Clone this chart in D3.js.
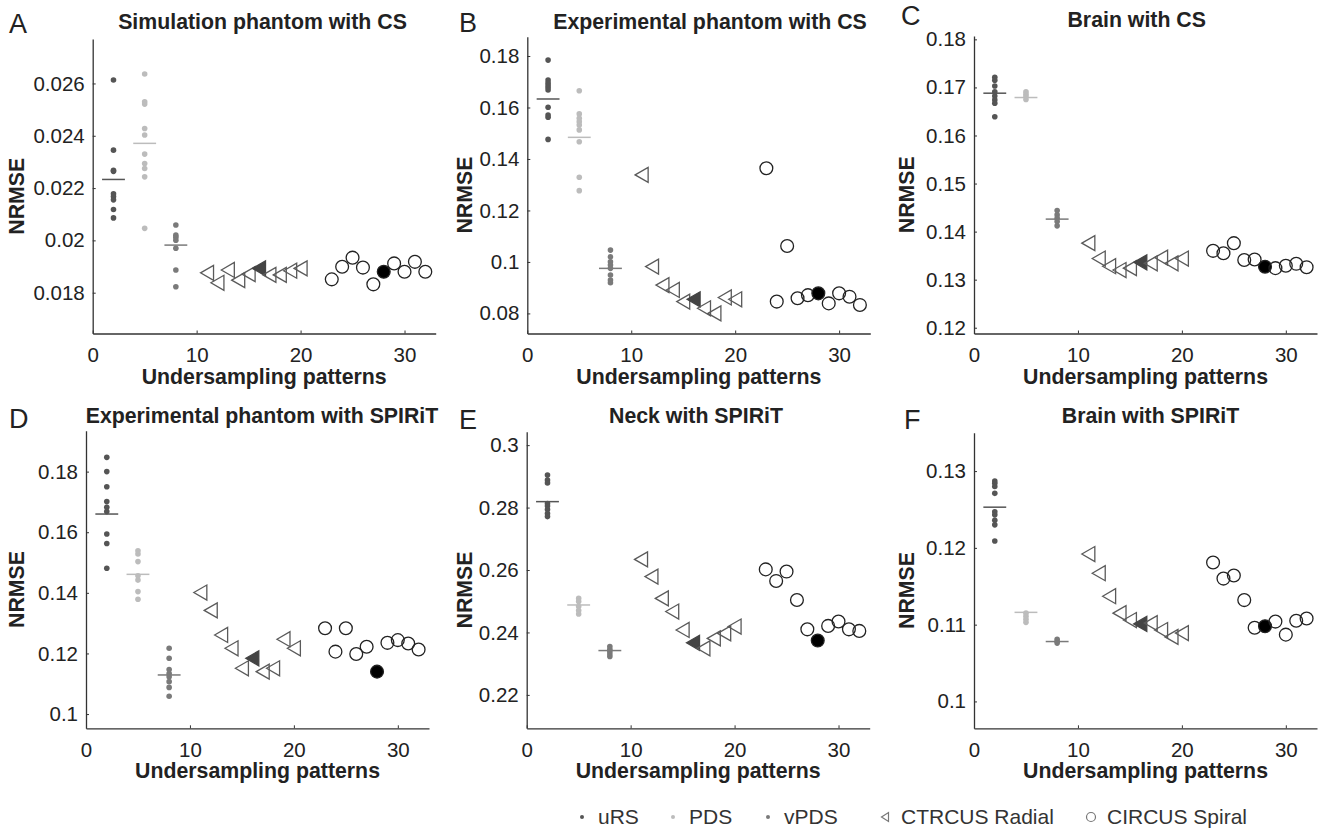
<!DOCTYPE html>
<html>
<head>
<meta charset="utf-8">
<script src="https://cdn.jsdelivr.net/npm/d3@7"></script>
<style>
  body { margin: 0; background: #fff; }
  svg text { font-family: 'Liberation Sans', Arial, sans-serif; }
</style>
</head>
<body>
<svg id="chart" width="1322" height="831"></svg>
<script>
// pattern positions on the x axis
const randomX = [2, 5, 8]; // uRS, PDS, vPDS
const radialX = [11, 12, 13, 14, 15, 16, 17, 18, 19, 20];
const spiralX = [23, 24, 25, 26, 27, 28, 29, 30, 31, 32];
const filledRadialX = 16;
const filledSpiralX = 28;
const xTicks = [0, 10, 20, 30];

// A - Simulation phantom with CS
const aURS = [0.02613, 0.02345, 0.02268, 0.02264, 0.02178, 0.02168, 0.02155, 0.02118, 0.02086];
const aPDS = [0.02636, 0.0253, 0.02521, 0.02428, 0.02403, 0.0233, 0.02294, 0.02275, 0.02243, 0.02046];
const aVPDS = [0.02059, 0.0202, 0.02012, 0.02001, 0.0197, 0.01887, 0.01823];
const aMeans = [0.02233, 0.02371, 0.01982];
const aRadial = [0.01876, 0.01838, 0.01887, 0.01848, 0.01871, 0.01893, 0.01868, 0.01868, 0.01884, 0.01893];
const aSpiral = [0.01851, 0.01899, 0.01934, 0.01896, 0.01832, 0.0188, 0.01912, 0.0188, 0.01918, 0.0188];
const aTicks = [0.018, 0.02, 0.022, 0.024, 0.026];

// B - Experimental phantom with CS
const bURS = [0.1784, 0.1707, 0.1696, 0.1687, 0.1678, 0.1668, 0.1601, 0.1571, 0.1562, 0.1476];
const bPDS = [0.1665, 0.1575, 0.1558, 0.1545, 0.1532, 0.1513, 0.1467, 0.1329, 0.1277];
const bVPDS = [0.1046, 0.102, 0.1001, 0.0988, 0.0975, 0.0949, 0.093, 0.0919];
const bMeans = [0.1633, 0.1484, 0.0975];
const bRadial = [0.1338, 0.0982, 0.091, 0.0891, 0.0846, 0.0855, 0.082, 0.08, 0.0862, 0.0855];
const bSpiral = [0.1364, 0.0846, 0.1062, 0.0859, 0.0871, 0.0878, 0.0839, 0.0878, 0.0865, 0.0833];
const bTicks = [0.08, 0.1, 0.12, 0.14, 0.16, 0.18];

// C - Brain with CS
const cURS = [0.1721, 0.1715, 0.1703, 0.1691, 0.1682, 0.1674, 0.1667, 0.1639];
const cPDS = [0.1691, 0.1686, 0.1681, 0.1675];
const cVPDS = [0.1444, 0.1435, 0.1428, 0.1421, 0.1412];
const cMeans = [0.1688, 0.1679, 0.1426];
const cRadial = [0.1376, 0.1344, 0.1328, 0.132, 0.1324, 0.1336, 0.1334, 0.1346, 0.1334, 0.1344];
const cSpiral = [0.136, 0.1355, 0.1376, 0.1341, 0.1342, 0.1327, 0.1324, 0.1329, 0.1333, 0.1326];
const cTicks = [0.12, 0.13, 0.14, 0.15, 0.16, 0.17, 0.18];

// D - Experimental phantom with SPIRiT
const dURS = [0.1847, 0.18, 0.175, 0.1701, 0.1682, 0.1668, 0.1594, 0.1563, 0.1481];
const dPDS = [0.1539, 0.1528, 0.1503, 0.1456, 0.1442, 0.1404, 0.1379];
const dVPDS = [0.1217, 0.1184, 0.1147, 0.1134, 0.1123, 0.1107, 0.1088, 0.1059];
const dMeans = [0.166, 0.1461, 0.1129];
const dRadial = [0.1401, 0.1342, 0.1261, 0.1217, 0.1151, 0.1184, 0.114, 0.1151, 0.1247, 0.1217];
const dSpiral = [0.1283, 0.1206, 0.1283, 0.1198, 0.1222, 0.114, 0.1235, 0.1244, 0.1233, 0.1213];
const dTicks = [0.1, 0.12, 0.14, 0.16, 0.18];

// E - Neck with SPIRiT
const eURS = [0.2904, 0.2888, 0.2879, 0.2813, 0.2805, 0.2794, 0.2781, 0.2771];
const ePDS = [0.2509, 0.2499, 0.2483, 0.247, 0.2459];
const eVPDS = [0.2355, 0.2346, 0.2339, 0.2331, 0.2323];
const eMeans = [0.2819, 0.2488, 0.2342];
const eRadial = [0.2634, 0.2579, 0.2509, 0.2467, 0.2408, 0.2367, 0.2349, 0.2381, 0.2397, 0.2419];
const eSpiral = [0.2602, 0.2565, 0.2595, 0.2504, 0.241, 0.2374, 0.2421, 0.2435, 0.241, 0.2405];
const eTicks = [0.22, 0.24, 0.26, 0.28, 0.3];

// F - Brain with SPIRiT
const fURS = [0.1287, 0.1284, 0.128, 0.1271, 0.1247, 0.1243, 0.1236, 0.123, 0.1209];
const fPDS = [0.1115, 0.1111, 0.1107, 0.1103];
const fVPDS = [0.1081, 0.1078, 0.1076];
const fMeans = [0.1253, 0.1116, 0.1078];
const fRadial = [0.1192, 0.1167, 0.1137, 0.1115, 0.1106, 0.1101, 0.1102, 0.1093, 0.1084, 0.1089];
const fSpiral = [0.1181, 0.116, 0.1164, 0.1132, 0.1096, 0.1098, 0.1104, 0.1087, 0.1105, 0.1108];
const fTicks = [0.1, 0.11, 0.12, 0.13];

const legendLabels = ['uRS', 'PDS', 'vPDS', 'CTRCUS Radial', 'CIRCUS Spiral'];
const groupColors = ['#555', '#bcbcbc', '#7a7a7a'];

const svg = d3.select('#chart');

const panels = [
  {
    letter: 'A', title: 'Simulation phantom with CS', groups: [aURS, aPDS, aVPDS], means: aMeans,
    radial: aRadial, spiral: aSpiral, ticks: aTicks, ylim: [0.01644, 0.0277],
    left: 92.7, top: 39, bottom: 333.5, titleX: 262.5, titleY: 29, letterPos: [9, 33], labelX: 17,
  },
  {
    letter: 'B', title: 'Experimental phantom with CS', groups: [bURS, bPDS, bVPDS], means: bMeans,
    radial: bRadial, spiral: bSpiral, ticks: bTicks, ylim: [0.0722, 0.1875],
    left: 527.3, top: 36.7, bottom: 333.5, titleX: 710, titleY: 29, letterPos: [459, 32], labelX: 465,
  },
  {
    letter: 'C', title: 'Brain with CS', groups: [cURS, cPDS, cVPDS], means: cMeans,
    radial: cRadial, spiral: cSpiral, ticks: cTicks, ylim: [0.1188, 0.1807],
    left: 974, top: 36, bottom: 333.5, titleX: 1136.7, titleY: 27, letterPos: [901, 25], labelX: 907,
  },
  {
    letter: 'D', title: 'Experimental phantom with SPIRiT', groups: [dURS, dPDS, dVPDS], means: dMeans,
    radial: dRadial, spiral: dSpiral, ticks: dTicks, ylim: [0.0953, 0.1935],
    left: 86, top: 430.7, bottom: 728.3, titleX: 262, titleY: 423, letterPos: [9, 428], labelX: 17,
  },
  {
    letter: 'E', title: 'Neck with SPIRiT', groups: [eURS, ePDS, eVPDS], means: eMeans,
    radial: eRadial, spiral: eSpiral, ticks: eTicks, ylim: [0.2093, 0.3043],
    left: 526.7, top: 431.7, bottom: 728.3, titleX: 696, titleY: 423, letterPos: [459, 429], labelX: 465,
  },
  {
    letter: 'F', title: 'Brain with SPIRiT', groups: [fURS, fPDS, fVPDS], means: fMeans,
    radial: fRadial, spiral: fSpiral, ticks: fTicks, ylim: [0.0965, 0.135],
    left: 974, top: 432.7, bottom: 728.3, titleX: 1150.5, titleY: 423, letterPos: [904, 429], labelX: 907,
  },
];

// left pointing triangle path around 0,0
const triangle = (w, h) => `M${-w / 2},0L${w / 2},${-h / 2}L${w / 2},${h / 2}Z`;

const makePanel = (p) => {
  const g = svg.append('g');
  const x = d3.scaleLinear().domain([0, 33]).range([p.left, p.left + 343]);
  const y = d3.scaleLinear().domain(p.ylim).range([p.bottom, p.top]);

  // axes, ticks inside like matlab
  const yAxis = g.append('g')
    .attr('transform', `translate(${p.left},0)`)
    .call(d3.axisLeft(y).tickValues(p.ticks).tickSizeInner(-3).tickSizeOuter(0)
      .tickPadding(8).tickFormat((d) => String(+d.toFixed(4))));
  const xAxis = g.append('g')
    .attr('transform', `translate(0,${p.bottom})`)
    .call(d3.axisBottom(x).tickValues(xTicks).tickSizeInner(-3).tickSizeOuter(0).tickPadding(14));

  [yAxis, xAxis].forEach((ax) => {
    ax.select('.domain').attr('stroke', '#333').attr('stroke-width', 1.3);
    ax.selectAll('.tick line').attr('stroke', '#333');
    ax.selectAll('.tick text').attr('fill', '#222').style('font-size', '20.5px');
  });

  // random pattern groups
  p.groups.forEach((vals, i) => {
    g.append('line')
      .attr('x1', x(randomX[i] - 1.1))
      .attr('x2', x(randomX[i] + 1.1))
      .attr('y1', y(p.means[i]))
      .attr('y2', y(p.means[i]))
      .attr('stroke', groupColors[i])
      .attr('stroke-width', 1.5);
    g.selectAll(null)
      .data(vals)
      .enter()
      .append('circle')
      .attr('cx', x(randomX[i]))
      .attr('cy', (d) => y(d))
      .attr('r', 2.8)
      .attr('fill', groupColors[i]);
  });

  // CTRCUS radial
  g.selectAll(null)
    .data(p.radial)
    .enter()
    .append('path')
    .attr('d', triangle(13, 15))
    .attr('transform', (d, i) => `translate(${x(radialX[i])},${y(d)})`)
    .attr('fill', (d, i) => (radialX[i] === filledRadialX ? '#444' : 'none'))
    .attr('stroke', (d, i) => (radialX[i] === filledRadialX ? '#444' : '#5a5a5a'))
    .attr('stroke-width', 1.3);

  // CIRCUS spiral
  g.selectAll(null)
    .data(p.spiral)
    .enter()
    .append('circle')
    .attr('cx', (d, i) => x(spiralX[i]))
    .attr('cy', (d) => y(d))
    .attr('r', 6.4)
    .attr('fill', (d, i) => (spiralX[i] === filledSpiralX ? '#000' : 'none'))
    .attr('stroke', '#222')
    .attr('stroke-width', 1.3);

  // labels
  g.append('text')
    .text(p.title)
    .attr('x', p.titleX)
    .attr('y', p.titleY)
    .attr('text-anchor', 'middle')
    .style('font-weight', 'bold')
    .style('font-size', '21.3px')
    .attr('fill', '#222');

  g.append('text')
    .text(p.letter)
    .attr('x', p.letterPos[0])
    .attr('y', p.letterPos[1])
    .style('font-size', '27px')
    .attr('fill', '#222');

  g.append('text')
    .text('Undersampling patterns')
    .attr('x', x(16.5))
    .attr('y', p.bottom + 50)
    .attr('text-anchor', 'middle')
    .style('font-weight', 'bold')
    .style('font-size', '21.3px')
    .attr('fill', '#222');

  const midY = (p.top + p.bottom) / 2 + 10;
  g.append('text')
    .text('NRMSE')
    .attr('transform', `translate(${p.labelX},${midY}) rotate(-90)`)
    .attr('text-anchor', 'middle')
    .attr('dy', '0.35em')
    .style('font-weight', 'bold')
    .style('font-size', '21.3px')
    .attr('fill', '#222');
};

panels.forEach(makePanel);

/**
 * Legend
 */
const legend = svg.append('g').attr('transform', 'translate(0,817)');
const legendX = [582, 673, 768, 885, 1091];
legend.selectAll(null)
  .data(legendLabels)
  .enter()
  .append('text')
  .text((d) => d)
  .attr('x', (d, i) => legendX[i] + 16)
  .attr('y', 0)
  .attr('dy', '0.35em')
  .style('font-size', '21px')
  .attr('fill', '#333');

groupColors.forEach((c, i) => {
  legend.append('circle').attr('cx', legendX[i]).attr('cy', 0).attr('r', 2)
    .attr('fill', c);
});
legend.append('path')
  .attr('d', triangle(7, 9))
  .attr('transform', `translate(${legendX[3]},0)`)
  .attr('fill', 'none')
  .attr('stroke', '#777')
  .attr('stroke-width', 1.2);
legend.append('circle')
  .attr('cx', legendX[4]).attr('cy', 0).attr('r', 4.5)
  .attr('fill', 'none')
  .attr('stroke', '#777')
  .attr('stroke-width', 1.2);
</script>
</body>
</html>
